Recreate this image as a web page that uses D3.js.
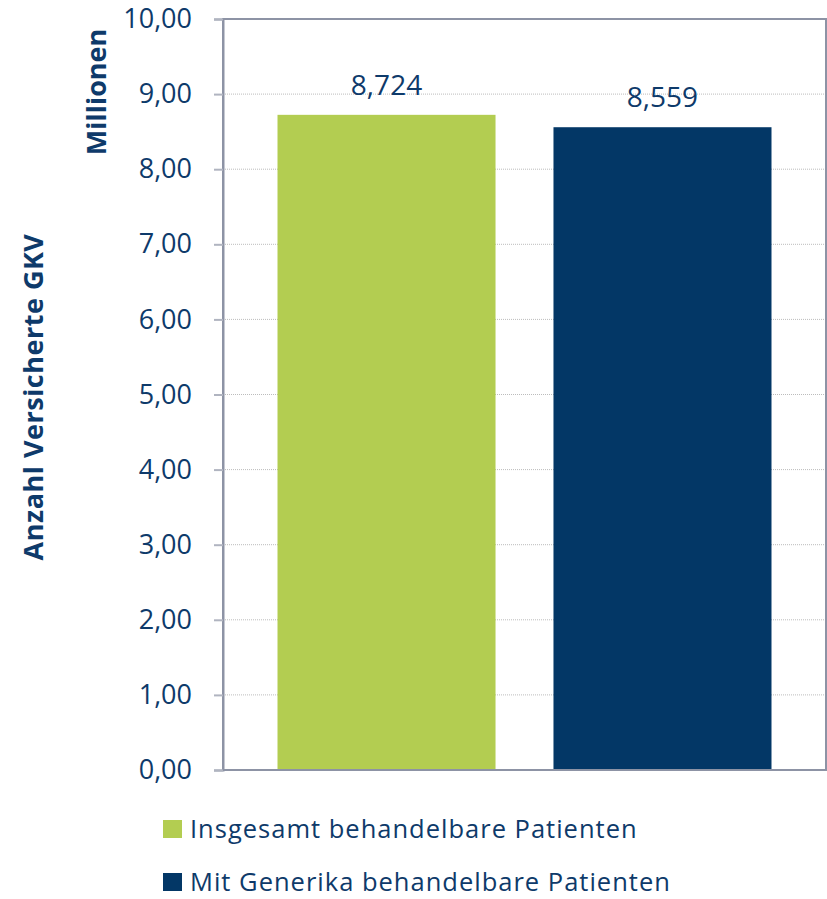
<!DOCTYPE html>
<html>
<head>
<meta charset="utf-8">
<script src="https://cdn.jsdelivr.net/npm/d3@7"></script>
<style>
  body { margin: 0; background: #fff; }
  svg text { font-family: "Open Sans", sans-serif; fill: #0e3a6a; }
</style>
</head>
<body>
<div id="chart"></div>
<script>
const categories = ["Insgesamt behandelbare Patienten", "Mit Generika behandelbare Patienten"];
const values     = [8.724, 8.559];
const valueLabels = ["8,724", "8,559"];
const colors     = ["#b3cd51", "#033766"];
const yTicks     = [0, 1, 2, 3, 4, 5, 6, 7, 8, 9, 10];

const W = 827, H = 899;
const plot = { left: 223, right: 826, top: 19, bottom: 770 };

const svg = d3.select("#chart").append("svg")
  .attr("width", W)
  .attr("height", H);

const x = d3.scaleBand()
  .domain(categories)
  .range([plot.left, plot.right])
  .paddingInner(0.21)
  .paddingOuter(0.1975);

const y = d3.scaleLinear()
  .domain([0, 10])
  .range([plot.bottom, plot.top]);

const fmt = d => d.toFixed(2).replace(".", ",");

// gridlines
svg.append("g")
  .selectAll("line")
  .data(yTicks.filter(d => d > 0 && d < 10))
  .join("line")
  .attr("x1", plot.left)
  .attr("x2", plot.right)
  .attr("y1", d => y(d))
  .attr("y2", d => y(d))
  .attr("stroke", "#bcbcbc")
  .attr("stroke-width", 1)
  .attr("stroke-dasharray", "1,1");

// bars
svg.append("g")
  .selectAll("rect")
  .data(values)
  .join("rect")
  .attr("x", (d, i) => x(categories[i]))
  .attr("y", d => y(d))
  .attr("width", x.bandwidth())
  .attr("height", d => y(0) - y(d))
  .attr("fill", (d, i) => colors[i]);

// value labels
svg.append("g")
  .selectAll("text")
  .data(values)
  .join("text")
  .attr("x", (d, i) => x(categories[i]) + x.bandwidth() / 2)
  .attr("y", d => y(d) - 20)
  .attr("text-anchor", "middle")
  .attr("font-size", 28)
  .text((d, i) => valueLabels[i]);

// plot frame
svg.append("rect")
  .attr("x", plot.left)
  .attr("y", plot.top)
  .attr("width", plot.right - plot.left)
  .attr("height", plot.bottom - plot.top)
  .attr("fill", "none")
  .attr("stroke", "#8d93a5")
  .attr("stroke-width", 2);

// y axis
const yAxis = svg.append("g")
  .attr("transform", `translate(${plot.left},0)`)
  .call(d3.axisLeft(y).tickValues(yTicks).tickFormat(fmt).tickSize(9).tickPadding(22));

yAxis.select(".domain").attr("stroke", "#8d93a5").attr("stroke-width", 2);
yAxis.selectAll(".tick line").attr("stroke", "#b0b4c0").attr("stroke-width", 2);
yAxis.selectAll(".tick text")
  .attr("font-size", 27)
  .attr("fill", "#0e3a6a")
  .attr("font-family", "'Open Sans', sans-serif");

// axis titles
svg.append("text")
  .attr("transform", `translate(43,397) rotate(-90)`)
  .attr("text-anchor", "middle")
  .attr("font-size", 27)
  .attr("font-weight", "bold")
  .attr("letter-spacing", 0.5)
  .text("Anzahl Versicherte GKV");

svg.append("text")
  .attr("transform", `translate(106,92) rotate(-90)`)
  .attr("text-anchor", "middle")
  .attr("font-size", 27)
  .attr("font-weight", "bold")
  .text("Millionen");

// legend
const legend = svg.append("g")
  .selectAll("g")
  .data(categories)
  .join("g")
  .attr("transform", (d, i) => `translate(163,${820 + i * 53})`);

legend.append("rect")
  .attr("width", 19)
  .attr("height", 18)
  .attr("fill", (d, i) => colors[i]);

legend.append("text")
  .attr("x", 27)
  .attr("y", 18)
  .attr("font-size", 25.5)
  .attr("letter-spacing", 1)
  .text(d => d);
</script>
</body>
</html>
